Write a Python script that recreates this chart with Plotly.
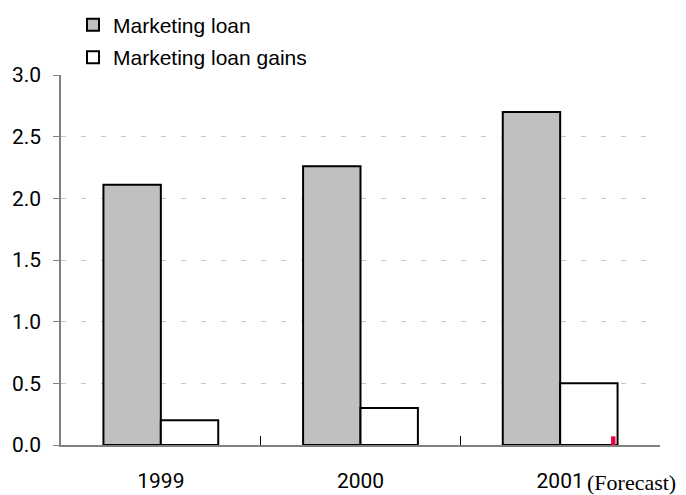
import plotly.graph_objects as go

# Data
years = ["1999", "2000", "2001"]
marketing_loan = [2.11, 2.26, 2.70]
marketing_loan_gains = [0.20, 0.30, 0.50]
flag_year = ["2001"]
flag_value = [0.07]
y_ticks = [0.0, 0.5, 1.0, 1.5, 2.0, 2.5, 3.0]
y_tick_labels = ["0.0", "0.5", "1.0", "1.5", "2.0", "2.5", "3.0"]

fig = go.Figure()
fig.add_trace(go.Bar(
    x=years, y=marketing_loan, name="Marketing loan",
    marker=dict(color="#c0c0c0", line=dict(color="#000000", width=2)),
    legendgroup="a",
))
fig.add_trace(go.Bar(
    x=years, y=marketing_loan_gains, name="Marketing loan gains",
    marker=dict(color="#ffffff", line=dict(color="#000000", width=2)),
    legendgroup="b",
))
# small red flag at the foot of the forecast bar, on an overlaid copy of the x axis
fig.add_trace(go.Bar(
    x=flag_year, y=flag_value, showlegend=False, xaxis="x2",
    marker=dict(color="#e8003c", line=dict(width=0)),
    width=0.022, offset=0.255,
))

fig.add_annotation(
    x=2, y=0, xref="x", yref="paper",
    text="(Forecast)", showarrow=False,
    xanchor="left", yanchor="top", xshift=25, yshift=-23,
    font=dict(family="Liberation Serif, Times New Roman, serif", size=22, color="#000000"),
)

fig.update_layout(
    width=686, height=495,
    margin=dict(l=61, r=26, t=75, b=50, autoexpand=False),
    paper_bgcolor="#ffffff", plot_bgcolor="#ffffff",
    barmode="group", bargap=0.425, bargroupgap=0,
    font=dict(family="Roboto, Arial, sans-serif", size=21, color="#000000"),
    showlegend=True,
    legend=dict(
        x=0.02, y=1.19, xanchor="left", yanchor="top",
        font=dict(family="Liberation Sans, Arial, sans-serif", size=21, color="#000000"),
        tracegroupgap=2, bgcolor="rgba(0,0,0,0)",
    ),
    xaxis=dict(
        type="category", categoryarray=years, range=[-0.5, 2.5],
        showgrid=False, zeroline=False, automargin=False,
        showline=True, linecolor="#808080", linewidth=1.5,
        ticks="inside", tickson="boundaries", ticklen=9, tickcolor="#000000",
        ticklabelstandoff=16, tickangle=0,
    ),
    xaxis2=dict(
        type="category", categoryarray=years, range=[-0.5, 2.5],
        overlaying="x", visible=False,
    ),
    yaxis=dict(
        range=[0, 3], tickvals=y_ticks, ticktext=y_tick_labels, automargin=False,
        showline=True, linecolor="#808080", linewidth=1.5,
        ticks="outside", ticklen=6, tickcolor="#808080",
        showgrid=True, gridcolor="#c8c8c8", griddash="5px,15px", gridwidth=1,
        zeroline=False, ticklabelstandoff=8,
    ),
)

fig.write_html("out.html")
